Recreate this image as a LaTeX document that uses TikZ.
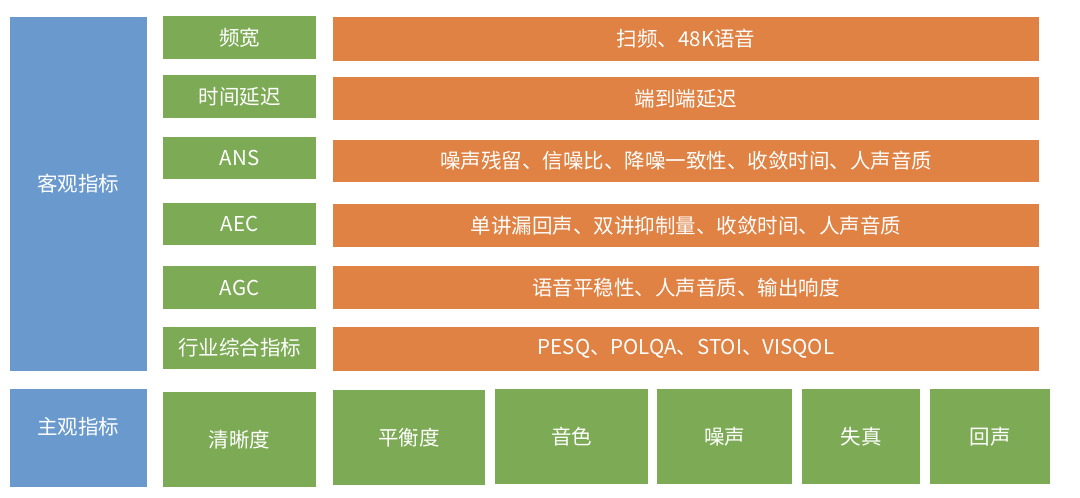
\documentclass[tikz,border=0pt]{standalone}
\usepackage{fontspec}
\setmainfont{Noto Sans CJK SC}
\definecolor{cblue}{HTML}{6999CD}
\definecolor{cgreen}{HTML}{7DAA55}
\definecolor{corange}{HTML}{DF8244}
\begin{document}
\begin{tikzpicture}[x=1pt,y=-1pt,
  box/.style={inner sep=0pt,outer sep=0pt,text=white,font=\fontsize{20.5}{24}\selectfont},
  bluebox/.style={box,fill=cblue},
  greenbox/.style={box,fill=cgreen},
  orangebox/.style={box,fill=corange}]
\useasboundingbox (0,0) rectangle (1080,498);
% blue
\node[bluebox,minimum width=137pt,minimum height=354pt] (obj) at (78.5,194) {};
\node[box] (objt) at (78.5,184) {客观指标};
\node[bluebox,minimum width=137pt,minimum height=98pt] (subj) at (78.5,438) {};
\node[box] (subjt) at (78.5,427) {主观指标};
% green column
\node[greenbox,minimum width=153pt,minimum height=43pt] (g1) at (239.5,37.5) {频宽};
\node[greenbox,minimum width=153pt,minimum height=43pt] (g2) at (239.5,96.5) {时间延迟};
\node[greenbox,minimum width=153pt,minimum height=42pt] (g3) at (239.5,158) {ANS};
\node[greenbox,minimum width=153pt,minimum height=42pt] (g4) at (239.5,224) {AEC};
\node[greenbox,minimum width=153pt,minimum height=43pt] (g5) at (239.5,287.5) {AGC};
\node[greenbox,minimum width=153pt,minimum height=42pt] (g6) at (239.5,348) {行业综合指标};
% orange column
\node[orangebox,minimum width=706pt,minimum height=44pt] (o1) at (686,39) {扫频、48K语音};
\node[orangebox,minimum width=706pt,minimum height=43pt] (o2) at (686,98.5) {端到端延迟};
\node[orangebox,minimum width=706pt,minimum height=42pt] (o3) at (686,161) {噪声残留、信噪比、降噪一致性、收敛时间、人声音质};
\node[orangebox,minimum width=706pt,minimum height=43pt] (o4) at (686,225.5) {单讲漏回声、双讲抑制量、收敛时间、人声音质};
\node[orangebox,minimum width=706pt,minimum height=43pt] (o5) at (686,287.5) {语音平稳性、人声音质、输出响度};
\node[orangebox,minimum width=706pt,minimum height=44pt] (o6) at (686,349) {PESQ、POLQA、STOI、VISQOL};
% subjective
\node[greenbox,minimum width=153pt,minimum height=95pt] (s1) at (239.5,439.5) {清晰度};
\node[greenbox,minimum width=152pt,minimum height=95pt] (s2) at (409,437.5) {平衡度};
\node[greenbox,minimum width=153pt,minimum height=95pt] (s3) at (571.5,436.5) {音色};
\node[greenbox,minimum width=135pt,minimum height=95pt] (s4) at (724.5,436.5) {噪声};
\node[greenbox,minimum width=118pt,minimum height=95pt] (s5) at (861,436.5) {失真};
\node[greenbox,minimum width=120pt,minimum height=95pt] (s6) at (990,436.5) {回声};
\end{tikzpicture}
\end{document}
